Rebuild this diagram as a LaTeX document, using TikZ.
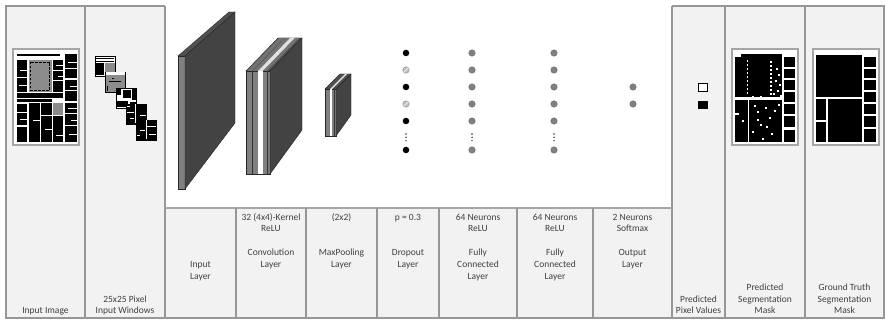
\documentclass[tikz,border=0pt]{standalone}
\usepackage{fontspec}
\setmainfont{Carlito}
\definecolor{bg}{HTML}{F2F2F2}
\definecolor{rule}{HTML}{979797}
\definecolor{txt}{HTML}{404040}
\definecolor{slabdark}{HTML}{434343}
\definecolor{slabside}{HTML}{808080}
\definecolor{slabtop}{HTML}{505050}
\definecolor{neuron}{HTML}{808080}
\definecolor{frameg}{HTML}{A6A6A6}
\definecolor{docgray}{HTML}{8C8C8C}
\tikzset{
  x={(1pt,0)}, y={(0,-1pt)},
  lbl/.style={font=\fontsize{9.5}{11.8}\selectfont, text=txt, align=center, inner sep=0pt, anchor=north},
  rulel/.style={draw=rule, line width=1.1pt},
  slabedge/.style={draw=black!85, line width=0.4pt},
  nfc/.style={circle, fill=neuron, draw=black!60, line width=0.4pt, inner sep=0pt, minimum size=6.5pt},
  nblk/.style={circle, fill=black, inner sep=0pt, minimum size=6.5pt},
  nhat/.style={circle, fill=black!25, draw=black!45, line width=0.4pt, inner sep=0pt, minimum size=6.5pt},
  edot/.style={circle, fill=black!80, inner sep=0pt, minimum size=1.6pt},
  docframe/.style={fill=white, draw=frameg, line width=1.3pt},
  blk/.style={fill=black},
  spk/.style={fill=white},
}
\begin{document}
\begin{tikzpicture}
\useasboundingbox (0,0) rectangle (885,320);
% backgrounds
\fill[bg] (6,6) rectangle (884,318);
\fill[white] (165,6) rectangle (672,208);
% frame lines
\draw[rulel] (165,6) -- (6,6) -- (6,318) -- (884,318) -- (884,6) -- (672,6);
\foreach \xx in {85,165,672,725,805} \draw[rulel] (\xx,6) -- (\xx,318);
\draw[draw=frameg, line width=2pt] (165,208) -- (672,208);
\foreach \xx in {236,306,377,439,517,593} \draw[rulel] (\xx,208) -- (\xx,318);

% ---------- Input image ----------
\filldraw[docframe] (13,49) rectangle (79,145);
\fill[blk] (17,54) rectangle (60,56.5);
\fill[blk] (17,60) rectangle (27,77);
\fill[blk] (17,78.5) rectangle (27,92);
\fill[blk] (17,93.5) rectangle (63,98);
\fill[blk] (17,99.5) rectangle (52,102);
\fill[blk] (17,104) rectangle (27,112);
\fill[blk] (17,113.5) rectangle (27,125);
\fill[blk] (17,127) rectangle (27,142);
\fill[docgray] (28.5,60) rectangle (51.5,92.5);
\draw[black, line width=0.8pt, dash pattern=on 2.5pt off 1.5pt] (30.5,62) rectangle (49.5,90.5);
\fill[blk] (53,60) rectangle (63,70);
\fill[blk] (53,71.5) rectangle (63,80);
\fill[blk] (53,81.5) rectangle (63,92);
\fill[blk] (28.5,103.5) rectangle (40,142);
\fill[blk] (41,103.5) rectangle (51.5,115);
\fill[blk] (41,116.5) rectangle (51.5,142);
\fill[docgray] (53,103.5) rectangle (63,115);
\fill[blk] (53,116.5) rectangle (63,142);
\fill[blk] (64.5,54) rectangle (76.5,68);
\fill[blk] (64.5,69.5) rectangle (76.5,78.5);
\fill[blk] (64.5,80) rectangle (76.5,90);
\fill[blk] (64.5,91.5) rectangle (76.5,101.5);
\fill[blk] (64.5,103) rectangle (76.5,113);
\fill[blk] (64.5,114.5) rectangle (76.5,125);
\fill[blk] (64.5,126.5) rectangle (76.5,142);
\fill[spk] (20,70) rectangle (27,71);
\fill[spk] (19,85) rectangle (27,86);
\fill[spk] (20,119) rectangle (27,120);
\fill[spk] (56,65) rectangle (63,66);
\fill[spk] (58,76) rectangle (63,77);
\fill[spk] (68,62) rectangle (76.5,63);
\fill[spk] (70,86) rectangle (76.5,87);
\fill[spk] (68,108) rectangle (76.5,109);
\fill[spk] (71,120) rectangle (76.5,121);
\fill[spk] (69,134) rectangle (76.5,135);
\fill[spk] (45,129) rectangle (51.5,130);
\fill[spk] (33,120) rectangle (40,121);
\fill[spk] (56,135) rectangle (63,136);

% ---------- Input windows ----------
% window 1
\filldraw[fill=white, draw=black, line width=0.6pt] (95,56) rectangle (115,76);
\fill[black] (96,58) rectangle (114,59);
\fill[black] (96,63) rectangle (104,75.5);
\fill[docgray] (105,63) rectangle (114.5,75.5);
\fill[black] (96,61) rectangle (114,62);
% window 2
\filldraw[fill=docgray, draw=black, line width=0.6pt] (105,72) rectangle (125,92);
\fill[white] (105.5,72.5) rectangle (124.5,75);
\fill[black] (109,81) rectangle (121,82);
\fill[black] (107,86) rectangle (108,91);
\fill[black] (112,78) rectangle (114,79);
% window 3
\filldraw[fill=white, draw=black, line width=0.6pt] (116,88) rectangle (136,108);
\fill[black] (116.5,88.5) rectangle (121,95);
\fill[black] (123,90) rectangle (131,98);
\fill[black] (132,88.5) rectangle (135.5,100);
\fill[black] (116.5,101) rectangle (128,107.5);
\fill[black] (130,102) rectangle (135.5,107.5);
% window 4
\filldraw[fill=black, draw=black, line width=0.6pt] (126,104) rectangle (146,124);
\fill[white] (127,106) rectangle (130,107);
\fill[white] (127,112) rectangle (134,113);
\fill[white] (135,104.5) rectangle (136,123.5);
\fill[white] (130,118) rectangle (134,119);
\fill[white] (140,115) rectangle (145.5,116);
% window 5
\filldraw[fill=black, draw=black, line width=0.6pt] (136,120) rectangle (156,140);
\fill[white] (146,120.5) rectangle (147,139.5);
\fill[white] (147,126) rectangle (155.5,127);
\fill[white] (140,130) rectangle (145,131);
\fill[white] (149,134) rectangle (155.5,135);
\fill[white] (137,135) rectangle (140,136);

% ---------- Block 1: input layer ----------
\filldraw[slabedge, fill=slabtop] (178,56) -- (185,56) -- (235,12) -- (229,12) -- cycle;
\filldraw[slabedge, fill=slabside] (178,56) rectangle (185,189);
\filldraw[slabedge, fill=slabdark] (185,56) -- (235,12) -- (235,123) -- (185,189) -- cycle;

% ---------- Block 2: convolution ----------
\filldraw[slabedge, fill=slabtop] (246,71) -- (270,71) -- (302,38) -- (278,38) -- cycle;
\fill[black!55] (247,71) -- (252,71) -- (284,38) -- (279,38) -- cycle;
\fill[black!55] (253,71) -- (258,71) -- (290,38) -- (285,38) -- cycle;
\fill[black!12] (258,71) -- (263,71) -- (295,38) -- (290,38) -- cycle;
\fill[black!55] (263,71) -- (267,71) -- (299,38) -- (295,38) -- cycle;
\filldraw[slabedge, fill=slabside] (246,71) rectangle (270,174);
\fill[white] (258,71.4) rectangle (263,173.6);
\draw[black!80, line width=0.7pt] (252.5,71) -- (252.5,174);
\draw[black!80, line width=0.5pt] (267.5,71) -- (267.5,174);
\filldraw[slabedge, fill=slabdark] (270,71) -- (302,38) -- (302,130) -- (270,174) -- cycle;

% ---------- Block 3: max pooling ----------
\filldraw[slabedge, fill=slabtop] (325,89) -- (336,89) -- (351,74) -- (340,74) -- cycle;
\fill[black!12] (330,89) -- (332,89) -- (347,74) -- (345,74) -- cycle;
\filldraw[slabedge, fill=slabside] (325,89) rectangle (336,136);
\fill[white] (330,89.4) rectangle (332,135.6);
\draw[black!80, line width=0.5pt] (334.5,89) -- (334.5,136);
\filldraw[slabedge, fill=slabdark] (336,89) -- (351,74) -- (351,115) -- (336,136) -- cycle;

% ---------- Dropout neurons ----------
\node[nblk] (d1) at (406,53) {};
\node[nhat] (d2) at (406,70) {};
\node[nblk] (d3) at (406,87) {};
\node[nhat] (d4) at (406,104) {};
\node[nblk] (d5) at (406,121) {};
\node[nblk] (d6) at (406,150) {};
\draw[white, line width=0.6pt] (d2.south west) -- (d2.north east);
\draw[white, line width=0.6pt] (d4.south west) -- (d4.north east);
\foreach \yy/\nm in {134/a,137.3/b,140.6/c} {
  \node[edot] (de\nm) at (406,\yy) {};
  \node[edot] (fe\nm) at (472,\yy) {};
  \node[edot] (ge\nm) at (554,\yy) {};
}
% ---------- FC neurons ----------
\foreach \yy [count=\i] in {53,70,87,104,121,150} {
  \node[nfc] (f\i) at (472,\yy) {};
  \node[nfc] (g\i) at (554,\yy) {};
}
% ---------- Output neurons ----------
\node[nfc] (o1) at (633,87) {};
\node[nfc] (o2) at (633,104) {};

% ---------- Predicted pixel values ----------
\node[draw=black, fill=white, line width=0.6pt, inner sep=0pt, minimum width=9.5pt, minimum height=8pt] (pw) at (703,87) {};
\node[fill=black, inner sep=0pt, minimum width=10pt, minimum height=8.5pt] (pb) at (703,105) {};

% ---------- Predicted segmentation mask ----------
\filldraw[docframe] (732,49) rectangle (798,145);
\fill[blk] (735,54.5) rectangle (782,97.5);
\fill[spk] (735,54.5) rectangle (741,57);
\fill[blk] (735,100) rectangle (747.5,142);
\fill[blk] (749,100) rectangle (782,142);
\fill[spk] (735,113) rectangle (739,115);
\foreach \yy in {60,64,68,72,76,80,84,88,92} {
  \fill[spk] (746.5,\yy) rectangle (748,\yy+1.6);
  \fill[spk] (770,\yy+1) rectangle (771.5,\yy+2.6);
}
\foreach \px/\py in {776/68,778/74,775/80,779/84,777/90,780/95,773/93,760/96,752/96,
  754/105,757/111,765/107,769/117,774/110,760/124,752/131,742/120,757/119,766/126,771/133,778/104,762/138} {
  \fill[spk] (\px,\py) rectangle ++(1.8,1.8);
}
\fill[spk] (735,97.5) rectangle (782,100);
\foreach \ya/\yb in {57/67,69/78,80/90,92/102,104/114,116/127,130/142} {
  \fill[blk] (783.5,\ya) rectangle (795,\yb);
}

% ---------- Ground truth segmentation mask ----------
\filldraw[docframe] (813,49) rectangle (879,145);
\fill[blk] (815.5,55) rectangle (862,97.5);
\foreach \ya/\yb in {57/67,69/78.5,80/90,92/102,104/114,116/127,129/142} {
  \fill[blk] (864,\ya) rectangle (876,\yb);
}
\fill[blk] (815.5,99.5) rectangle (825.5,120);
\fill[blk] (815.5,122) rectangle (825.5,142);
\fill[blk] (827.5,99.5) rectangle (862,142);

% ---------- Labels ----------
\node[lbl] (tImg) at (45.5,305.5) {\strut Input Image};
\node[lbl] (tWin) at (125,293.7) {\strut 25x25 Pixel\\Input Windows};
\node[lbl] (tIn) at (200.5,258.9) {\strut Input\\Layer};
\node[lbl] (tConv) at (271,211.7) {\strut 32 (4x4)-Kernel\\ReLU\\ \\Convolution\\Layer};
\node[lbl] (tPool) at (341.5,211.7) {\strut (2x2)\\ \\ \\MaxPooling\\Layer};
\node[lbl] (tDrop) at (408,211.7) {\strut p = 0.3\\ \\ \\Dropout\\Layer};
\node[lbl] (tFc1) at (478,211.7) {\strut 64 Neurons\\ReLU\\ \\Fully\\Connected\\Layer};
\node[lbl] (tFc2) at (555,211.7) {\strut 64 Neurons\\ReLU\\ \\Fully\\Connected\\Layer};
\node[lbl] (tOut) at (632.5,211.7) {\strut 2 Neurons\\Softmax\\ \\Output\\Layer};
\node[lbl] (tPix) at (698.5,293.7) {\strut Predicted\\Pixel Values};
\node[lbl] (tPred) at (765,281.9) {\strut Predicted\\Segmentation\\Mask};
\node[lbl] (tGt) at (844.5,281.9) {\strut Ground Truth\\Segmentation\\Mask};
\end{tikzpicture}
\end{document}
